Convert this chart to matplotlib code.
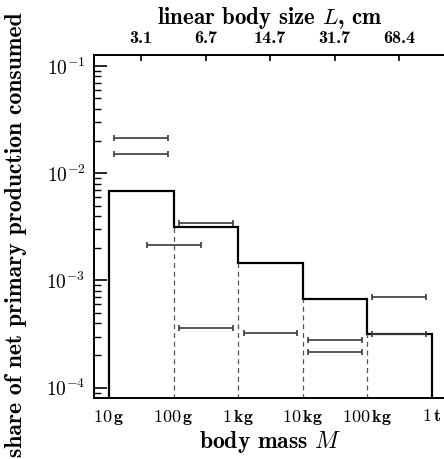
import numpy as np
import matplotlib
matplotlib.use("Agg")
import matplotlib.pyplot as plt
from matplotlib.ticker import FixedLocator, LogLocator, NullFormatter

plt.rcParams["mathtext.fontset"] = "cm"
plt.rcParams["font.family"] = ["cmb10", "DejaVu Serif"]
plt.rcParams["axes.unicode_minus"] = False

# ── Data ─────────────────────────────────────────────────────────
bin_edges = [10, 100, 1e3, 1e4, 1e5, 1e6]          # body mass, g
bin_share = [6.85e-3, 3.14e-3, 1.47e-3, 6.75e-4, 3.19e-4]

# horizontal ranges (mass, g) and their share values
range_lo = [12.1, 12.1, 123, 38.4, 1.2e5, 123, 1.22e3, 1.2e4, 1.2e4, 1.2e5]
range_hi = [81, 81, 828, 263, 8.2e5, 828, 8.1e3, 8.3e4, 8.3e4, 8.2e5]
range_val = [2.12e-2, 1.50e-2, 3.47e-3, 2.15e-3, 6.95e-4,
             3.63e-4, 3.22e-4, 2.80e-4, 2.15e-4, 3.19e-4]

mass_ticks = [10, 100, 1e3, 1e4, 1e5, 1e6]
mass_labels = [r"$\mathbf{10\,g}$", r"$\mathbf{100\,g}$", r"$\mathbf{1\,kg}$",
               r"$\mathbf{10\,kg}$", r"$\mathbf{100\,kg}$", r"$\mathbf{1\,t}$"]
size_ticks = [10**1.5, 10**2.5, 10**3.5, 10**4.5, 10**5.5]
size_labels = ["3.1", "6.7", "14.7", "31.7", "68.4"]

# ── Figure ───────────────────────────────────────────────────────
fig = plt.figure(figsize=(4.44, 4.59), dpi=100)
ax = fig.add_axes([0.2117, 0.1329, 0.794, 0.7479])
ax.set_xscale("log")
ax.set_yscale("log")
ax.set_xlim(10**0.767, 10**6.233)
ax.set_ylim(10**-4.096, 10**-0.895)

ymin = 1e-6
ax.stairs(bin_share, bin_edges, baseline=ymin, color="black", lw=1.6)
for i in range(1, len(bin_edges) - 1):
    ax.vlines(bin_edges[i], ymin, min(bin_share[i - 1], bin_share[i]),
              colors="#555555", linestyles=(0, (4, 3)), lw=0.9)

for lo, hi, v in zip(range_lo, range_hi, range_val):
    c = np.sqrt(lo * hi)
    ax.errorbar(c, v, xerr=[[c - lo], [hi - c]], fmt="none",
                ecolor="#3a3a3a", elinewidth=1.2, capsize=2.2, capthick=1.2)

ax.spines["right"].set_visible(False)
for s in ["left", "bottom", "top"]:
    ax.spines[s].set_linewidth(1.4)

ax.xaxis.set_major_locator(FixedLocator(mass_ticks))
ax.xaxis.set_minor_locator(FixedLocator([]))
ax.set_xticklabels(mass_labels, fontsize=13)
ax.tick_params(axis="x", which="both", length=0, pad=7)

ax.yaxis.set_minor_locator(LogLocator(base=10, subs=np.arange(2, 10), numticks=10))
ax.yaxis.set_minor_formatter(NullFormatter())
ax.set_yticks([1e-4, 1e-3, 1e-2, 1e-1])
ax.set_yticklabels([r"$\mathbf{10^{-4}}$", r"$\mathbf{10^{-3}}$",
                    r"$\mathbf{10^{-2}}$", r"$\mathbf{10^{-1}}$"], fontsize=14)
ax.tick_params(axis="y", which="major", direction="in", length=9, width=1.2, pad=6)
ax.tick_params(axis="y", which="minor", direction="in", length=5, width=1.0)

top = ax.twiny()
top.set_xscale("log")
top.set_xlim(ax.get_xlim())
top.xaxis.set_major_locator(FixedLocator(size_ticks))
top.xaxis.set_minor_locator(FixedLocator([]))
top.set_xticklabels(size_labels, fontsize=13)
top.tick_params(axis="x", direction="in", length=4, width=1.2, pad=6)
for s in ["right", "left", "bottom"]:
    top.spines[s].set_visible(False)
top.spines["top"].set_linewidth(1.4)
top.set_xlabel(r"linear body size $L$, cm", fontsize=16.5, labelpad=5.5)

ax.set_xlabel(r"body mass $M$", fontsize=17, labelpad=2)
ax.set_ylabel("share of net primary production consumed", fontsize=17)
ax.yaxis.set_label_coords(-0.19, 0.475)

fig.savefig("out.png", dpi=100)
